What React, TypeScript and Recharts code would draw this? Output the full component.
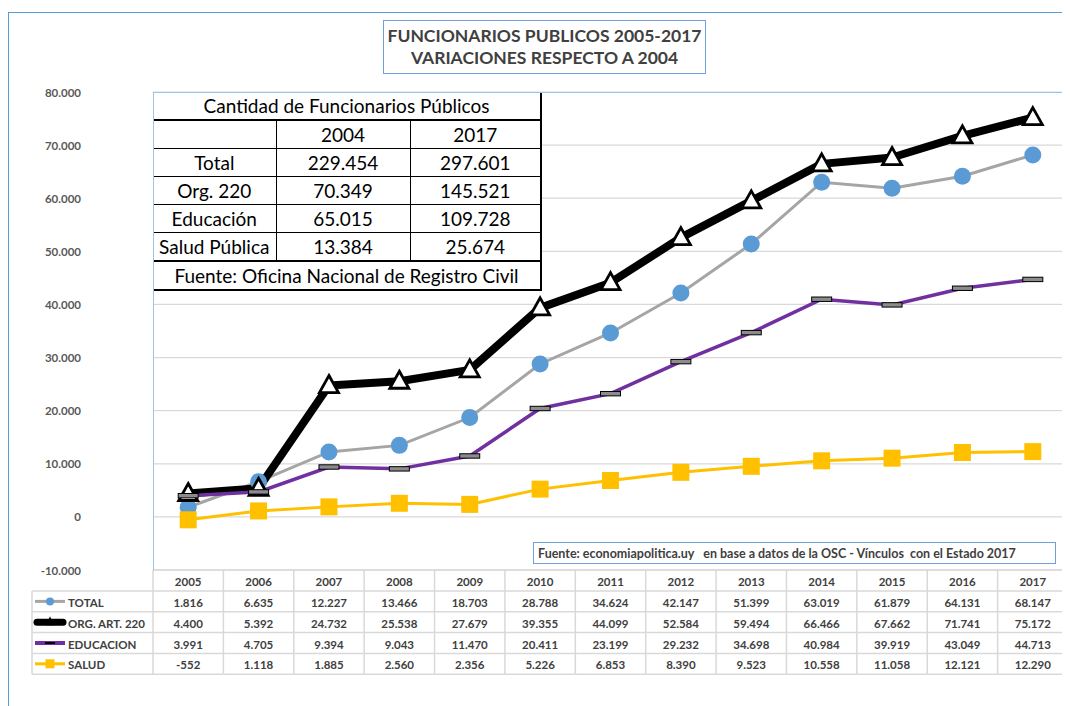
import React from 'react';
import { LineChart, Line, XAxis, YAxis, CartesianGrid } from 'recharts';

const years = ['2005', '2006', '2007', '2008', '2009', '2010', '2011', '2012', '2013', '2014', '2015', '2016', '2017'];
const total = [1816, 6635, 12227, 13466, 18703, 28788, 34624, 42147, 51399, 63019, 61879, 64131, 68147];
const org220 = [4400, 5392, 24732, 25538, 27679, 39355, 44099, 52584, 59494, 66466, 67662, 71741, 75172];
const educacion = [3991, 4705, 9394, 9043, 11470, 20411, 23199, 29232, 34698, 40984, 39919, 43049, 44713];
const salud = [-552, 1118, 1885, 2560, 2356, 5226, 6853, 8390, 9523, 10558, 11058, 12121, 12290];
const yTicks = [-10000, 0, 10000, 20000, 30000, 40000, 50000, 60000, 70000, 80000];

const seriesNames = ['TOTAL', 'ORG. ART. 220', 'EDUCACION', 'SALUD'];
const seriesValues = [total, org220, educacion, salud];

const titleLines = ['FUNCIONARIOS PUBLICOS 2005-2017', 'VARIACIONES RESPECTO A 2004'];
const sourceText = 'Fuente: economiapolitica.uy\u00a0\u00a0 en base a datos de la OSC - Vínculos\u00a0 con el Estado 2017';

const insetTitle = 'Cantidad de Funcionarios Públicos';
const insetHeader = ['', '2004', '2017'];
const insetLabels = ['Total', 'Org. 220', 'Educación', 'Salud Pública'];
const inset2004 = [229454, 70349, 65015, 13384];
const inset2017 = [297601, 145521, 109728, 25674];
const insetSource = 'Fuente: Oficina Nacional de Registro Civil';

const data = years.map((y, i) => ({
  year: y,
  total: total[i],
  org: org220[i],
  edu: educacion[i],
  salud: salud[i],
}));

const FONT = 'Lato, "Open Sans", sans-serif';
const W = 1062;
const H = 698;
const MARGIN = { top: 84, right: 2, left: 0, bottom: 26 };
const YW = 145;
const XH = 110;
const PLOT_W = W - MARGIN.right - MARGIN.left - YW;
const BAND = PLOT_W / years.length;
const HEADER_H = 21;
const ROW_H = 20.8;
const LEGEND_W = 121;
const GRID = '#d9d9d9';
const TXT = '#404040';
const TFS = 11.5;

const fmt = (n: number) => {
  const s = Math.abs(Math.round(n)).toString().replace(/\B(?=(\d{3})+(?!\d))/g, '.');
  return (n < 0 ? '-' : '') + s;
};

const Circle = (p: any) => {
  if (p.cx == null || p.cy == null) return <g key={p.index} />;
  return <circle key={p.index} cx={p.cx} cy={p.cy} r={8.5} fill="#5B9BD5" stroke="none" />;
};
const Triangle = (p: any) => {
  if (p.cx == null || p.cy == null) return <g key={p.index} />;
  const { cx, cy } = p;
  const d = `M${cx},${cy - 10} L${cx + 9.5},${cy + 7} L${cx - 9.5},${cy + 7} Z`;
  return <path key={p.index} d={d} fill="#fff" stroke="#000" strokeWidth={2.8} strokeLinejoin="miter" />;
};
const Dash = (p: any) => {
  if (p.cx == null || p.cy == null) return <g key={p.index} />;
  return <rect key={p.index} x={p.cx - 10} y={p.cy - 2.2} width={20} height={4.4} fill="#8c8c8c" stroke="#000" strokeWidth={1} />;
};
const Square = (p: any) => {
  if (p.cx == null || p.cy == null) return <g key={p.index} />;
  return <rect key={p.index} x={p.cx - 8.5} y={p.cy - 8.5} width={17} height={17} fill="#FFC000" stroke="none" />;
};

const LegendSample = ({ i, x, y }: { i: number; x: number; y: number }) => {
  const x1 = x + 3;
  const x2 = x + 33;
  const mx = (x1 + x2) / 2;
  if (i === 0)
    return (
      <g>
        <line x1={x1} x2={x2} y1={y} y2={y} stroke="#A5A5A5" strokeWidth={3} />
        <circle cx={mx} cy={y} r={4} fill="#5B9BD5" />
      </g>
    );
  if (i === 1)
    return (
      <g>
        <line x1={x1 + 2} x2={x2 - 2} y1={y} y2={y} stroke="#000" strokeWidth={7} strokeLinecap="round" />
        <path d={`M${mx},${y - 6} L${mx + 4},${y + 3} L${mx - 4},${y + 3} Z`} fill="#000" />
      </g>
    );
  if (i === 2)
    return (
      <g>
        <line x1={x1} x2={x2} y1={y} y2={y} stroke="#7030A0" strokeWidth={4} />
        <rect x={mx - 5} y={y - 1} width={10} height={2} fill="#000" />
      </g>
    );
  return (
    <g>
      <line x1={x1} x2={x2} y1={y} y2={y} stroke="#FFC000" strokeWidth={3} />
      <rect x={mx - 4.5} y={y - 4.5} width={9} height={9} fill="#FFC000" />
    </g>
  );
};

const YTick = (props: any) => {
  const { x, y, payload } = props;
  return (
    <text x={x - 72} y={y} textAnchor="end" dominantBaseline="central" fontFamily={FONT} fontSize={11.5}
      fontWeight="bold" fill="#595959">{fmt(payload.value)}</text>
  );
};

const TableTick = (props: any) => {
  const { x, y, payload, index } = props;
  const half = BAND / 2;
  const left = x - half;
  const right = x + half;
  const bottom = y + HEADER_H + ROW_H * seriesValues.length;
  const idx = years.indexOf(String(payload.value));
  const els: any[] = [];
  els.push(
    <text key="yr" x={x} y={y + HEADER_H / 2 + 1} textAnchor="middle" dominantBaseline="central"
      fontFamily={FONT} fontSize={TFS} fontWeight="bold" fill={TXT}>{payload.value}</text>
  );
  els.push(<line key="vr" x1={right} x2={right} y1={y} y2={bottom} stroke={GRID} strokeWidth={1.5} />);
  els.push(<line key="top" x1={left} x2={right} y1={y} y2={y} stroke={GRID} strokeWidth={1.5} />);
  for (let r = 0; r <= seriesValues.length; r++) {
    const ly = y + HEADER_H + r * ROW_H;
    els.push(<line key={'h' + r} x1={left} x2={right} y1={ly} y2={ly} stroke={GRID} strokeWidth={1.5} />);
  }
  seriesValues.forEach((vals, r) => {
    const cy = y + HEADER_H + r * ROW_H + ROW_H / 2 + 1;
    els.push(
      <text key={'v' + r} x={x} y={cy} textAnchor="middle" dominantBaseline="central"
        fontFamily={FONT} fontSize={TFS} fontWeight="bold" fill={TXT}>{fmt(vals[idx])}</text>
    );
  });
  if (index === 0) {
    const lx = left - LEGEND_W;
    els.push(<line key="vl" x1={left} x2={left} y1={y} y2={bottom} stroke={GRID} strokeWidth={1.5} />);
    els.push(<line key="vll" x1={lx} x2={lx} y1={y + HEADER_H} y2={bottom} stroke={GRID} strokeWidth={1.5} />);
    for (let r = 0; r <= seriesValues.length; r++) {
      const ly = y + HEADER_H + r * ROW_H;
      els.push(<line key={'lh' + r} x1={lx} x2={left} y1={ly} y2={ly} stroke={GRID} strokeWidth={1.5} />);
    }
    seriesNames.forEach((name, r) => {
      const cy = y + HEADER_H + r * ROW_H + ROW_H / 2;
      els.push(<LegendSample key={'ls' + r} i={r} x={lx} y={cy} />);
      els.push(
        <text key={'ln' + r} x={lx + 36} y={cy + 1} textAnchor="start" dominantBaseline="central"
          fontFamily={FONT} fontSize={TFS} fontWeight="bold" fill={TXT}>{name}</text>
      );
    });
  }
  return <g>{els}</g>;
};

const thin = '1px solid #000';
const thick = '2.5px solid #000';

export default function App() {
  const cell: React.CSSProperties = {
    padding: 0,
    textAlign: 'center',
    verticalAlign: 'middle',
    height: 27,
    fontFamily: FONT,
    fontSize: 19,
    color: '#000',
    border: thin,
    lineHeight: '20px',
    whiteSpace: 'nowrap',
  };
  return (
    <div style={{ position: 'relative', width: W, height: H, background: '#fff', fontFamily: FONT, overflow: 'hidden' }}>
      <div style={{ position: 'absolute', left: 0, top: 4, width: W + 10, height: H - 4,
        borderTop: '1.5px solid #5B9BD5', borderLeft: '1.5px solid #5B9BD5', boxSizing: 'border-box' }} />
      <LineChart width={W} height={H} data={data} margin={MARGIN}>
        <CartesianGrid vertical={false} stroke={GRID} strokeWidth={1.2} />
        <XAxis dataKey="year" height={XH} interval={0} tickSize={0} tickMargin={0} axisLine={false}
          tickLine={false} tick={TableTick} padding={{ left: BAND / 2, right: BAND / 2 }} />
        <YAxis width={YW} domain={[-10000, 80000]} ticks={yTicks} axisLine={false}
          tickLine={false} tickSize={0} tickMargin={0} tick={YTick} />
        <Line dataKey="total" name={seriesNames[0]} stroke="#A5A5A5" strokeWidth={3} dot={Circle}
          activeDot={false} isAnimationActive={false} />
        <Line dataKey="org" name={seriesNames[1]} stroke="#000" strokeWidth={8} strokeLinejoin="round"
          dot={Triangle} activeDot={false} isAnimationActive={false} />
        <Line dataKey="edu" name={seriesNames[2]} stroke="#7030A0" strokeWidth={3.5} dot={Dash}
          activeDot={false} isAnimationActive={false} />
        <Line dataKey="salud" name={seriesNames[3]} stroke="#FFC000" strokeWidth={3} dot={Square}
          activeDot={false} isAnimationActive={false} />
      </LineChart>

      <div style={{ position: 'absolute', left: 145, top: 84, width: 388, background: '#fff' }}>
        <table style={{ borderCollapse: 'collapse', tableLayout: 'fixed', width: 388 }}>
          <colgroup>
            <col style={{ width: 123 }} />
            <col style={{ width: 134 }} />
            <col style={{ width: 131 }} />
          </colgroup>
          <tbody>
            <tr>
              <td colSpan={3} style={{ ...cell, height: 27, borderTop: 'none', borderLeft: 'none', borderRight: thick, borderBottom: thick }}>{insetTitle}</td>
            </tr>
            <tr>
              {insetHeader.map((h, i) => (
                <td key={i} style={{ ...cell, borderLeft: i === 0 ? 'none' : thin, borderRight: i === 2 ? thick : thin }}>{h}</td>
              ))}
            </tr>
            {insetLabels.map((lab, r) => (
              <tr key={r}>
                <td style={{ ...cell, borderLeft: 'none' }}>{lab}</td>
                <td style={cell}>{fmt(inset2004[r])}</td>
                <td style={{ ...cell, borderRight: thick }}>{fmt(inset2017[r])}</td>
              </tr>
            ))}
            <tr>
              <td colSpan={3} style={{ ...cell, borderLeft: 'none', borderTop: thick, borderBottom: thick, borderRight: thick }}>{insetSource}</td>
            </tr>
          </tbody>
        </table>
      </div>

      <div style={{ position: 'absolute', left: 145, top: 84, width: PLOT_W, height: 478,
        borderTop: '1.5px solid #9DC3E6', borderLeft: '1.5px solid #9DC3E6', borderRight: '1.5px solid #9DC3E6',
        boxSizing: 'border-box', pointerEvents: 'none' }} />

      <div style={{ position: 'absolute', left: 375, top: 12, width: 323, height: 54, boxSizing: 'border-box',
        border: '1px solid #6FA0DC', background: '#fff', display: 'flex', flexDirection: 'column',
        alignItems: 'center', justifyContent: 'center' }}>
        {titleLines.map((t, i) => (
          <div key={i} style={{ fontFamily: FONT, fontWeight: 'bold', fontSize: 17.5, lineHeight: '22px', color: TXT, whiteSpace: 'nowrap' }}>{t}</div>
        ))}
      </div>

      <div style={{ position: 'absolute', left: 525, top: 534, width: 523, height: 22, boxSizing: 'border-box',
        border: '1px solid #6FA0DC', background: '#fff', display: 'flex', alignItems: 'center', paddingLeft: 4,
        fontFamily: FONT, fontWeight: 'bold', fontSize: 12.5, color: TXT, whiteSpace: 'nowrap', overflow: 'hidden' }}>
        {sourceText}
      </div>
    </div>
  );
}
